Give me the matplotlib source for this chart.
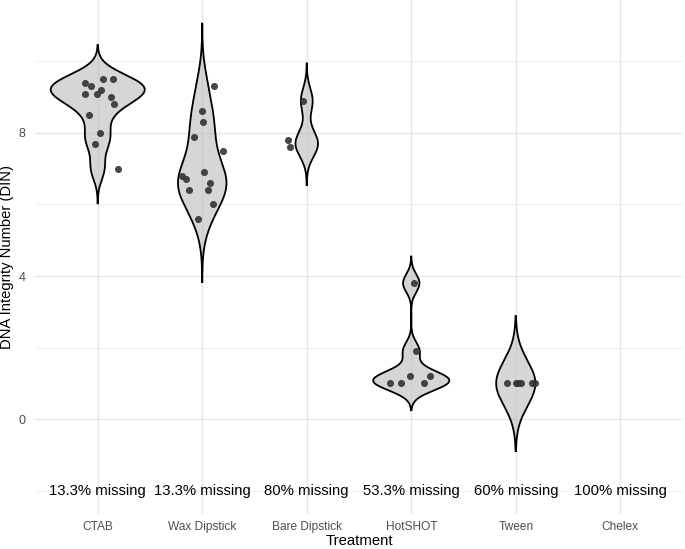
import numpy as np
import matplotlib
matplotlib.use("Agg")
import matplotlib.pyplot as plt

plt.rcParams["font.family"] = ["Liberation Sans", "DejaVu Sans"]

# --- data ------------------------------------------------------------------
treatments = ["CTAB", "Wax Dipstick", "Bare Dipstick", "HotSHOT", "Tween", "Chelex"]
missing = ["13.3% missing", "13.3% missing", "80% missing",
           "53.3% missing", "60% missing", "100% missing"]

din_ctab = [9.4, 9.3, 9.5, 9.5, 9.1, 9.1, 9.2, 9.0, 8.8, 8.5, 8.0, 7.7, 7.0]
din_wax = [9.3, 8.6, 8.3, 7.9, 7.5, 6.8, 6.7, 6.9, 6.6, 6.4, 6.4, 6.0, 5.6]
din_bare = [8.9, 7.8, 7.6]
din_hotshot = [3.8, 1.9, 1.0, 1.0, 1.2, 1.0, 1.2]
din_tween = [1.0, 1.0, 1.0, 1.0, 1.0, 1.0]
din_chelex = []

# horizontal jitter of the points, as seen in the picture
jit_ctab = [-0.12, -0.06, 0.05, 0.15, -0.12, -0.01, 0.03, 0.13, 0.16, -0.08, 0.02, -0.03, 0.19]
jit_wax = [0.11, 0.0, 0.01, -0.08, 0.20, -0.19, -0.16, 0.02, 0.07, -0.13, 0.06, 0.10, -0.04]
jit_bare = [-0.04, -0.18, -0.16]
jit_hotshot = [0.03, 0.05, -0.20, -0.10, -0.01, 0.12, 0.18]
jit_tween = [-0.08, 0.0, 0.02, 0.05, 0.16, 0.18]
jit_chelex = []

groups = [din_ctab, din_wax, din_bare, din_hotshot, din_tween, din_chelex]
jitters = [jit_ctab, jit_wax, jit_bare, jit_hotshot, jit_tween, jit_chelex]


def bw_nrd0(x):
    x = np.asarray(x, float)
    hi = x.std(ddof=1)
    q1, q3 = np.percentile(x, [25, 75])
    lo = min(hi, (q3 - q1) / 1.34)
    if not lo:
        lo = hi or abs(x[0]) or 1.0
    return 0.9 * lo * len(x) ** -0.2


# kernel densities like geom_violin(trim = FALSE, scale = "count")
dens = []
for vals in groups:
    if len(vals) == 0:
        dens.append(None)
        continue
    v = np.asarray(vals, float)
    bw = bw_nrd0(v)
    y = np.linspace(v.min() - 3 * bw, v.max() + 3 * bw, 512)
    d = np.exp(-0.5 * ((y[:, None] - v[None, :]) / bw) ** 2).sum(1) / (len(v) * bw * np.sqrt(2 * np.pi))
    dens.append((y, d * len(v)))
dmax = max(g[1].max() for g in dens if g is not None)

fig = plt.figure(figsize=(6.85, 5.49), dpi=100)
ax = fig.add_axes([35 / 685, 35 / 549, 648 / 685, 514 / 549])
ax.set_facecolor("white")

for i, g in enumerate(dens):
    if g is None:
        continue
    y, d = g
    hw = 0.45 * d / dmax
    xs = np.concatenate([i + 1 - hw, (i + 1 + hw)[::-1]])
    ys = np.concatenate([y, y[::-1]])
    ax.fill(xs, ys, facecolor="#bdbdbd", alpha=0.62, edgecolor="none", zorder=2)
    ax.plot(xs, ys, color="black", lw=1.3, zorder=3, solid_joinstyle="round")

for i, (vals, jit) in enumerate(zip(groups, jitters)):
    if vals:
        ax.scatter(np.array(jit) + i + 1, vals, s=26, color="#333333",
                   alpha=0.9, linewidths=0, zorder=4)

for i, lab in enumerate(missing):
    ax.text(i + 1, -2, lab, ha="center", va="center", fontsize=10.7,
            color="black", zorder=5)

top = max(g[0].max() for g in dens if g is not None)
lo = -2.0
pad = 0.05 * (top - lo)
ax.set_ylim(lo - pad, top + pad)
ax.set_xlim(0.4, len(treatments) + 0.6)

ax.set_xticks(range(1, len(treatments) + 1))
ax.set_xticklabels(treatments)
ax.set_yticks([0, 4, 8])
ax.set_yticks([-2, 2, 6, 10], minor=True)
ax.tick_params(axis="both", which="both", length=0, labelsize=8.6,
               labelcolor="#4d4d4d")
ax.tick_params(axis="y", pad=7, labelsize=9)
ax.tick_params(axis="x", pad=5)

ax.grid(True, which="major", color="#e6e6e6", lw=1.0, zorder=0)
ax.grid(True, which="minor", axis="y", color="#ececec", lw=0.6, zorder=0)
ax.set_axisbelow(True)
for s in ax.spines.values():
    s.set_visible(False)

ax.set_xlabel("Treatment", fontsize=10.7, labelpad=1)
ax.set_ylabel("DNA Integrity Number (DIN)", fontsize=10.6)
ax.yaxis.set_label_coords(-28 / 648, 0.5)
ax.yaxis.label.set_verticalalignment("center")

fig.savefig("out.png", dpi=100, facecolor="white")
